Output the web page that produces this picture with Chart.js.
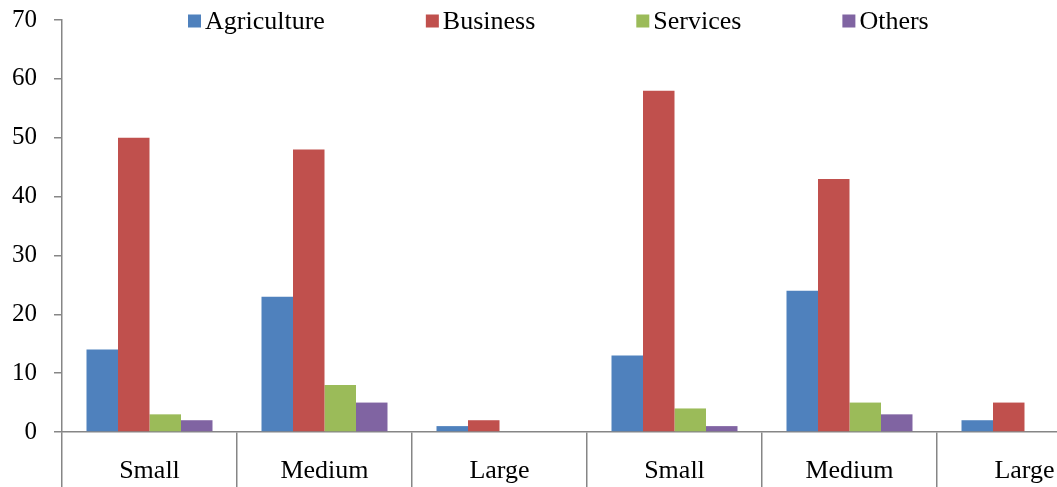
<!DOCTYPE html>
<html>
<head>
<meta charset="utf-8">
<script src="https://cdn.jsdelivr.net/npm/chart.js@4/dist/chart.umd.min.js"></script>
<style>
  html, body { margin: 0; padding: 0; background: #fff; overflow: hidden; }
  #wrap { width: 1057px; height: 487px; overflow: hidden; }
</style>
</head>
<body>
<div id="wrap"><canvas id="sizeChart" width="1112" height="487"></canvas></div>
<script>
var categories = ['Small', 'Medium', 'Large', 'Small', 'Medium', 'Large'];
var agriculture = [14, 23, 1, 13, 24, 2];
var business = [50, 48, 2, 58, 43, 5];
var services = [3, 8, 0, 4, 5, 0];
var others = [2, 5, 0, 1, 3, 0];
var yTicks = [0, 10, 20, 30, 40, 50, 60, 70];

var axisGray = '#868686';
var serif = 'Liberation Serif, serif';

// legend drawn inside the plot area, like the original spreadsheet chart
var topLegend = {
    id: 'topLegend',
    afterDraw: function (chart) {
        var c = chart.ctx;
        var sets = chart.data.datasets;
        var gap = 101, box = 13, textGap = 4;
        var x = 188, y = 21;
        c.save();
        c.font = '26px ' + serif;
        c.textBaseline = 'middle';
        c.textAlign = 'left';
        sets.forEach(function (d) {
            var w = c.measureText(d.label).width;
            c.fillStyle = d.backgroundColor;
            c.fillRect(x, y - box / 2, box, box);
            c.fillStyle = '#000';
            c.fillText(d.label, x + box + textGap, y + 1);
            x += box + textGap + w + gap;
        });
        c.restore();
    }
};

var ctx = document.getElementById('sizeChart');

var myBarChart = new Chart(ctx, {
    type: 'bar',
    data: {
        labels: categories,
        datasets: [
            { label: 'Agriculture', data: agriculture, backgroundColor: '#4F81BD' },
            { label: 'Business', data: business, backgroundColor: '#C0504D' },
            { label: 'Services', data: services, backgroundColor: '#9BBB59' },
            { label: 'Others', data: others, backgroundColor: '#8064A2' }
        ]
    },
    plugins: [topLegend],
    options: {
        responsive: false,
        animation: false,
        devicePixelRatio: 1,
        datasets: {
            bar: { categoryPercentage: 0.72, barPercentage: 1.0 }
        },
        layout: { padding: { top: 20, bottom: 0, left: 0, right: 0 } },
        plugins: {
            tooltip: { enabled: false },
            legend: { display: false }
        },
        scales: {
            x: {
                offset: true,
                afterFit: function (scale) {
                    scale.height = 55;
                    scale.paddingLeft = 0;
                    scale.paddingRight = 0;
                },
                border: { display: true, color: axisGray, width: 1.5 },
                grid: {
                    offset: true,
                    drawOnChartArea: false,
                    drawTicks: true,
                    tickLength: 62,
                    color: axisGray,
                    lineWidth: 1.5
                },
                ticks: {
                    color: '#000',
                    font: { family: serif, size: 26 },
                    padding: -38,
                    maxRotation: 0,
                    autoSkip: false
                }
            },
            y: {
                min: 0,
                max: 70,
                afterFit: function (scale) {
                    scale.width = 62;
                    scale.paddingTop = 0;
                    scale.paddingBottom = 0;
                },
                afterBuildTicks: function (scale) {
                    scale.ticks = yTicks.map(function (v) { return { value: v }; });
                },
                border: { display: true, color: axisGray, width: 1.5 },
                grid: {
                    drawOnChartArea: false,
                    drawTicks: true,
                    tickLength: 8,
                    color: axisGray,
                    lineWidth: 1.5
                },
                ticks: {
                    color: '#000',
                    font: { family: serif, size: 25 },
                    padding: 17
                }
            }
        }
    }
});
</script>
</body>
</html>
